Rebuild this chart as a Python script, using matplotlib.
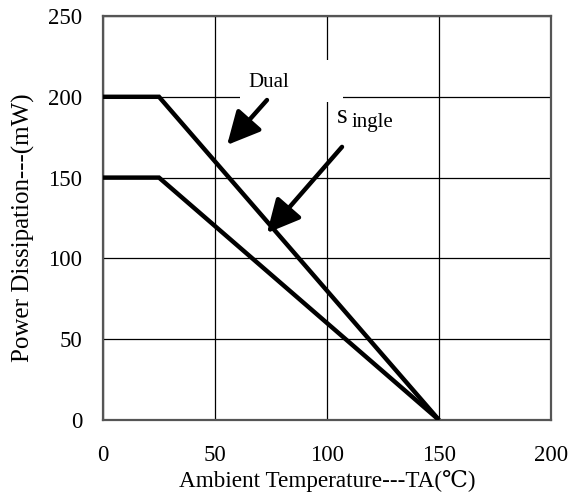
import matplotlib
matplotlib.use("Agg")
import matplotlib.pyplot as plt
from matplotlib.patches import Rectangle

plt.rcParams['font.family'] = ['Liberation Serif', 'DejaVu Serif']

# Data
dual_temp = [0, 25, 150]
dual_power = [200, 200, 0]
single_temp = [0, 25, 150]
single_power = [150, 150, 0]
x_ticks = [0, 50, 100, 150, 200]
y_ticks = [0, 50, 100, 150, 200, 250]

fig = plt.figure(figsize=(5.72, 4.96), dpi=100)
ax = fig.add_axes([103/572, 76/496, 448/572, 404/496])
ax.set_xlim(0, 200)
ax.set_ylim(0, 250)
ax.set_xticks(x_ticks)
ax.set_yticks(y_ticks)
ax.tick_params(length=0, labelsize=16.5)
ax.tick_params(axis='y', pad=15)
ax.tick_params(axis='x', pad=18)
ax.grid(True, color='black', linewidth=0.9, zorder=1)
ax.set_axisbelow(True)
for s in ax.spines.values():
    s.set_color('#555555')
    s.set_linewidth(1.6)

ax.plot(dual_temp, dual_power, color='black', linewidth=3.2, zorder=3,
        solid_capstyle='butt', solid_joinstyle='miter')
ax.plot(single_temp, single_power, color='black', linewidth=3.2, zorder=3,
        solid_capstyle='butt', solid_joinstyle='miter')

# white box behind "Dual" label
ax.add_patch(Rectangle((61.2, 196.8), 45.9, 26.0, facecolor='white',
                       edgecolor='none', zorder=2))
ax.text(64.7, 206, 'Dual', fontsize=15, zorder=4, va='baseline', ha='left')
ax.text(104.5, 183.8, 's', fontsize=19.5, zorder=4, va='baseline', ha='left')
ax.text(111.2, 181.3, 'ingle', fontsize=15, zorder=4, va='baseline', ha='left')

arrow_kw = dict(arrowstyle='-|>,head_length=1.0,head_width=0.5', color='black',
                lw=3.2, shrinkA=0, shrinkB=0, mutation_scale=20)
ax.annotate('', xy=(55.4, 170.2), xytext=(73.2, 198.0), arrowprops=arrow_kw, zorder=5)
ax.annotate('', xy=(73.2, 115.7), xytext=(106.7, 169.0), arrowprops=arrow_kw, zorder=5)

ax.set_xlabel('Ambient Temperature---TA(\u2103)', fontsize=16.7)
ax.set_ylabel('Power Dissipation---(mW)', fontsize=18)
ax.xaxis.set_label_coords(0.5, -0.125)
ax.yaxis.set_label_coords(-0.152, 0.475)

fig.savefig('out.png', dpi=100)
